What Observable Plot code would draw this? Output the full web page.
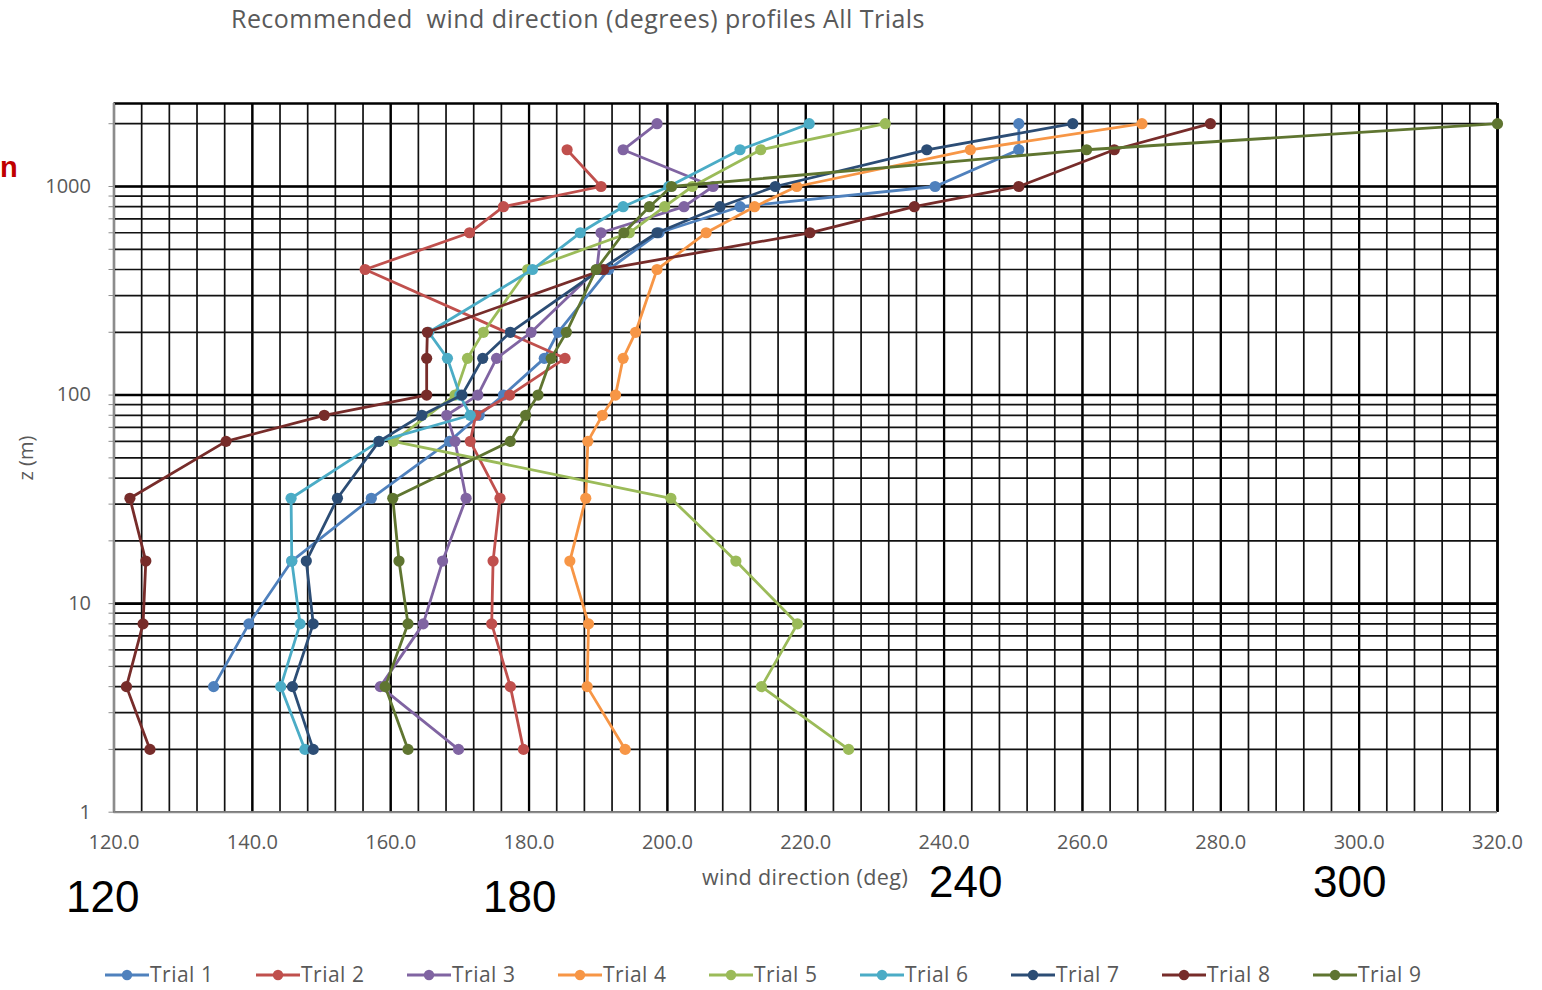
<!DOCTYPE html>
<html>
<head>
<meta charset="utf-8">
<script src="https://cdn.jsdelivr.net/npm/d3@7"></script>
<script src="https://cdn.jsdelivr.net/npm/@observablehq/plot@0.6"></script>
<style>
  body { margin: 0; background: #fff; }
  #wrap { position: relative; width: 1542px; height: 990px; overflow: hidden; font-family: "Open Sans", sans-serif; }
  #chart { position: absolute; left: 0; top: 0; }
  .abs { position: absolute; white-space: nowrap; }
  .gray { color: #595959; }
  .big { font-family: "Liberation Sans", Arial, sans-serif; font-size: 44px; line-height: 0.75; color: #000; }
  .leg { position: absolute; top: 964px; display: flex; align-items: center; white-space: nowrap; font-size: 21px; line-height: 21px; letter-spacing: 0.5px; color: #595959; }
</style>
</head>
<body>
<div id="wrap">
  <div id="chart"></div>
  <div class="abs gray" style="left:231px;top:1px;font-size:25px;letter-spacing:0.45px;">Recommended&nbsp; wind direction (degrees) profiles All Trials</div>
  <div class="abs gray" style="left:702px;top:862px;font-size:21.5px;letter-spacing:0.4px;">wind direction (deg)</div>
  <div class="abs gray" style="left:25px;top:458px;font-size:20px;transform:translate(-50%,-50%) rotate(-90deg);">z (m)</div>
  <div class="abs" style="left:0px;top:153px;font-family:'Liberation Sans',Arial,sans-serif;font-weight:bold;font-size:29px;line-height:1;color:#C00000;">n</div>
  <div class="abs big" style="left:66px;top:880px;">120</div>
  <div class="abs big" style="left:483px;top:880px;">180</div>
  <div class="abs big" style="left:929px;top:865px;">240</div>
  <div class="abs big" style="left:1313px;top:865px;">300</div>
  <div id="legend"></div>
</div>
<script>
// ---- data ----
const heights = [2, 4, 8, 16, 32, 60, 80, 100, 150, 200, 400, 600, 800, 1000, 1500, 2000];
const trialNames = ["Trial 1", "Trial 2", "Trial 3", "Trial 4", "Trial 5", "Trial 6", "Trial 7", "Trial 8", "Trial 9"];
const trialColors = ["#4F81BD", "#C0504D", "#8064A2", "#F79646", "#9BBB59", "#4BACC6", "#2C4D75", "#772C2A", "#5F7530"];
const trial1 = [null, 134.4, 139.5, 145.7, 157.2, 168.5, 172.8, 176.3, 182.2, 184.2, 191.5, 198.8, 210.5, 238.7, 250.8, 250.8];
const trial2 = [179.2, 177.3, 174.6, 174.8, 175.8, 171.5, 172.3, 177.2, 185.2, null, 156.3, 171.4, 176.3, 190.4, 185.5, null];
const trial3 = [169.8, 158.5, 164.7, 167.5, 170.9, 169.3, 168.1, 172.6, 175.3, 180.3, 189.8, 190.4, 202.4, 206.6, 193.6, 198.5];
const trial4 = [193.9, 188.4, 188.6, 185.9, 188.2, 188.5, 190.6, 192.5, 193.6, 195.4, 198.5, 205.6, 212.6, 218.7, 243.8, 268.6];
const trial5 = [226.2, 213.6, 218.8, 209.9, 200.5, 160.4, null, 169.3, 171.1, 173.4, 179.8, 194.5, 199.6, 203.6, 213.5, 231.5];
const trial6 = [147.6, 144.1, 146.9, 145.7, 145.6, 158.3, 171.5, 170.0, 168.2, 165.5, 180.5, 187.4, 193.6, 200.2, 210.5, 220.5];
const trial7 = [148.8, 145.8, 148.8, 147.8, 152.3, 158.3, 164.5, 170.3, 173.3, 177.3, 190.3, 198.5, 207.6, 215.6, 237.5, 258.6];
const trial8 = [125.2, 121.8, 124.2, 124.6, 122.3, 136.2, 150.4, 165.2, 165.2, 165.3, 190.8, 220.6, 235.7, 250.8, 264.6, 278.5];
const trial9 = [162.5, 159.2, 162.5, 161.2, 160.3, 177.3, 179.5, 181.3, 183.2, 185.4, 189.7, 193.7, 197.4, 200.6, 260.6, 320.0];
const xTickLabels = [120, 140, 160, 180, 200, 220, 240, 260, 280, 300, 320];
const yTickLabels = [1, 10, 100, 1000];

const trials = [trial1, trial2, trial3, trial4, trial5, trial6, trial7, trial8, trial9];

// grid positions
const xGridMinor = d3.range(120, 321, 4);
const yGridMinor = [];
for (const dec of [1, 10, 100, 1000]) for (let m = 1; m <= 9; m++) { const v = m * dec; if (v <= 2000) yGridMinor.push(v); }

const seriesMarks = [];
trials.forEach((vals, i) => {
  const rows = heights.map((z, j) => ({z, dir: vals[j]})).filter(d => d.dir != null);
  seriesMarks.push(Plot.line(rows, {x: "dir", y: "z", stroke: trialColors[i], strokeWidth: 2.8}));
  seriesMarks.push(Plot.dot(rows, {x: "dir", y: "z", r: 5.6, fill: trialColors[i], stroke: "none"}));
});

const H = 940;
const chart = Plot.plot({
  width: 1542,
  height: H,
  marginLeft: 113.5,
  marginRight: 45,
  marginTop: 103,
  marginBottom: H - 811.7,
  style: {fontFamily: "'Open Sans', sans-serif", background: "#fff"},
  x: {domain: [120, 320]},
  y: {type: "log", domain: [1, 2500]},
  marks: [
    Plot.gridX(xGridMinor, {stroke: "#111", strokeOpacity: 1, strokeWidth: 1.7}),
    Plot.gridX(xTickLabels, {stroke: "#000", strokeOpacity: 1, strokeWidth: 2.3}),
    Plot.gridY(yGridMinor, {stroke: "#111", strokeOpacity: 1, strokeWidth: 1.7}),
    Plot.gridY([10, 100, 1000], {stroke: "#000", strokeOpacity: 1, strokeWidth: 2.6}),
    Plot.ruleY([2500], {stroke: "#000", strokeWidth: 2.4}),
    Plot.ruleX([320], {stroke: "#000", strokeWidth: 2.4}),
    Plot.ruleY([1], {stroke: "#8c8c8c", strokeWidth: 2}),
    Plot.ruleX([120], {stroke: "#8c8c8c", strokeWidth: 2}),
    Plot.axisY({ticks: yGridMinor, tickSize: 5, stroke: "#8c8c8c", fill: "none", label: null}),
    Plot.axisX({ticks: xTickLabels, tickSize: 0, tickPadding: 23, tickFormat: d => d.toFixed(1), fontSize: 20, fill: "#595959", label: null}),
    Plot.axisY({ticks: yTickLabels, tickSize: 0, tickPadding: 23, tickFormat: d => String(d), fontSize: 20, fill: "#595959", label: null}),
    ...seriesMarks
  ]
});
document.getElementById("chart").appendChild(chart);

// legend
const legend = document.getElementById("legend");
const legLeft = [105, 256, 407, 558, 709, 860, 1011, 1162, 1313];
trialNames.forEach((name, i) => {
  const item = document.createElement("div");
  item.className = "leg";
  item.style.left = legLeft[i] + "px";
  item.innerHTML = `<svg width="44" height="14" style="margin-right:1px;flex:none"><line x1="0" y1="7" x2="44" y2="7" stroke="${trialColors[i]}" stroke-width="2.8"/><circle cx="22" cy="7" r="5.2" fill="${trialColors[i]}"/></svg><span>${name}</span>`;
  legend.appendChild(item);
});
</script>
</body>
</html>
